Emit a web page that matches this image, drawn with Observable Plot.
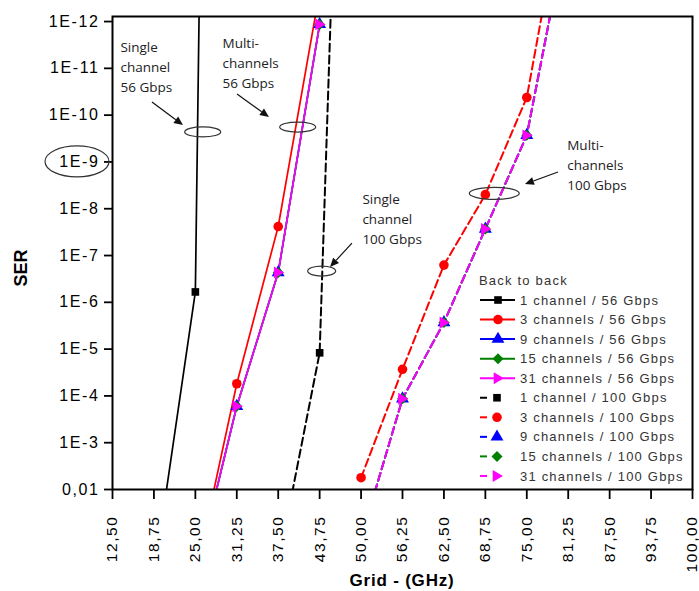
<!DOCTYPE html>
<html><head><meta charset="utf-8">
<script src="https://cdn.jsdelivr.net/npm/d3@7"></script>
<script src="https://cdn.jsdelivr.net/npm/@observablehq/plot@0.6"></script>
<style>body{margin:0;background:#fff}#chart{width:699px;height:591px}</style>
</head><body><div id="chart"></div>
<script>
// ---- tick labels ----
const gridTicks = [12.5, 18.75, 25, 31.25, 37.5, 43.75, 50, 56.25, 62.5, 68.75, 75, 81.25, 87.5, 93.75, 100];
const serTicks = [1e-12, 1e-11, 1e-10, 1e-9, 1e-8, 1e-7, 1e-6, 1e-5, 1e-4, 1e-3, 1e-2];

// ---- series (Grid GHz, SER) ----
const x_1ch56 = [18.75, 25, 31.25];
const y_1ch56 = [0.7, 6e-7, 1e-72];
const x_3ch56 = [25, 31.25, 37.5, 43.75];
const y_3ch56 = [0.7, 5.5e-5, 2.4e-8, 2.3e-13];
const x_9ch56 = [25, 31.25, 37.5, 43.75];
const y_9ch56 = [0.74, 1.66e-4, 2.3e-7, 1.15e-12];
const x_15ch56 = [25, 31.25, 37.5, 43.75];
const y_15ch56 = [0.74, 1.66e-4, 2.3e-7, 1.15e-12];
const x_31ch56 = [25, 31.25, 37.5, 43.75];
const y_31ch56 = [0.74, 1.66e-4, 2.3e-7, 1.15e-12];
const x_1ch100 = [37.5, 43.75, 50];
const y_1ch100 = [0.38, 1.2e-5, 1e-32];
const x_3ch100 = [50, 56.25, 62.5, 68.75, 75, 81.25];
const y_3ch100 = [5.6e-3, 2.7e-5, 1.6e-7, 5e-9, 4.2e-11, 6e-16];
const x_9ch100 = [50, 56.25, 62.5, 68.75, 75, 81.25];
const y_9ch100 = [0.11, 1.15e-4, 2.7e-6, 2.7e-8, 2.7e-10, 8e-15];
const x_15ch100 = [50, 56.25, 62.5, 68.75, 75, 81.25];
const y_15ch100 = [0.11, 1.15e-4, 2.7e-6, 2.7e-8, 2.7e-10, 8e-15];
const x_31ch100 = [50, 56.25, 62.5, 68.75, 75, 81.25];
const y_31ch100 = [0.11, 1.15e-4, 2.7e-6, 2.7e-8, 2.7e-10, 8e-15];

const seriesNames = ["1 channel / 56 Gbps", "3 channels / 56 Gbps", "9 channels / 56 Gbps", "15 channels / 56 Gbps", "31 channels / 56 Gbps",
  "1 channel / 100 Gbps", "3 channels / 100 Gbps", "9 channels / 100 Gbps", "15 channels / 100 Gbps", "31 channels / 100 Gbps"];

// annotations (data coordinates)
const annTexts = ["Single\nchannel\n56 Gbps", "Multi-\nchannels\n56 Gbps", "Single\nchannel\n100 Gbps", "Multi-\nchannels\n100 Gbps"];
const annTextX = [13.7, 29.1, 50.2, 81.1];
const annTextY = [10 ** -11.06, 10 ** -11.145, 10 ** -7.812, 10 ** -8.966];
const ellX = [26.18, 40.51, 44.13, 70.17];
const ellY = [10 ** -9.63, 10 ** -9.735, 10 ** -6.658, 10 ** -8.318];
const arrows = [ // x1, log y1, x2, log y2
  [18.53, -10.27, 23.21, -9.778],
  [31.36, -10.44, 36.18, -9.949],
  [48.70, -7.256, 45.39, -6.744],
  [79.78, -8.774, 74.80, -8.517]
];

// ---- symbols ----
const triRight = {
  draw(ctx, size) {
    const s = Math.sqrt(size);
    ctx.moveTo(0.62 * s, 0);
    ctx.lineTo(-0.45 * s, -0.62 * s);
    ctx.lineTo(-0.45 * s, 0.62 * s);
    ctx.closePath();
  }
};
const diamondSq = {
  draw(ctx, size) {
    const s = Math.sqrt(size) * 0.62;
    ctx.moveTo(0, -s);
    ctx.lineTo(s, 0);
    ctx.lineTo(0, s);
    ctx.lineTo(-s, 0);
    ctx.closePath();
  }
};
const xs = [x_1ch56, x_3ch56, x_9ch56, x_15ch56, x_31ch56, x_1ch100, x_3ch100, x_9ch100, x_15ch100, x_31ch100];
const ys = [y_1ch56, y_3ch56, y_9ch56, y_15ch56, y_31ch56, y_1ch100, y_3ch100, y_9ch100, y_15ch100, y_31ch100];
const colors = ["#000000", "#ff0000", "#0000ff", "#008000", "#ff00ff"];
const symbols = ["square", "circle", "triangle", diamondSq, triRight];
const d3Symbols = [d3.symbolSquare, d3.symbolCircle, d3.symbolTriangle, diamondSq, triRight];
const radii = [4.3, 4.8, 4.8, 5, 5.4];

const series = seriesNames.map((name, i) => ({
  name,
  color: colors[i % 5],
  symbol: symbols[i % 5],
  d3sym: d3Symbols[i % 5],
  r: radii[i % 5],
  dashed: i >= 5,
  rows: xs[i].map((x, j) => ({x, y: ys[i][j]}))
}));

const marks = [];
for (const s of series) {
  marks.push(Plot.line(s.rows, {x: "x", y: "y", stroke: s.color, strokeWidth: s.dashed ? 2 : 1.7,
    strokeDasharray: s.dashed ? "8,4" : null, clip: true}));
}
for (const s of series) {
  marks.push(Plot.dot(s.rows, {x: "x", y: "y", symbol: s.symbol, fill: s.color, r: s.r, clip: true}));
}
marks.push(Plot.frame({stroke: "#000", strokeWidth: 2}));
marks.push(Plot.text(annTexts.map((t, i) => ({t, x: annTextX[i], y: annTextY[i]})), {
  x: "x", y: "y", text: "t", textAnchor: "start", lineAnchor: "middle", lineHeight: 1.5,
  fontSize: 13.5, fontFamily: "Open Sans", fill: "#222"
}));

const chart = Plot.plot({
  width: 699, height: 591,
  marginLeft: 112, marginRight: 7, marginTop: 16, marginBottom: 102,
  style: {fontFamily: "'Liberation Sans', Arial, sans-serif", fontSize: "16px", color: "#000", background: "#fff"},
  x: {domain: [12.5, 100], label: null},
  y: {type: "log", domain: [0.01, 7.8e-13], label: null},
  marks: [
    Plot.axisX({ticks: gridTicks, tickFormat: d => d.toFixed(2).replace(".", ","), tickRotate: -90,
      tickSize: 10, tickPadding: 16, fontSize: 15.5, strokeWidth: 1.8, label: null}),
    Plot.axisY({ticks: serTicks, tickFormat: d => d === 0.01 ? "0,01" : "1E" + Math.round(Math.log10(d)),
      tickSize: 8, tickPadding: 5, fontSize: 16, strokeWidth: 1.8, label: null}),
    ...marks
  ]
});
document.getElementById("chart").appendChild(chart);

const svg = d3.select(chart);
svg.selectAll('[aria-label="x-axis tick label"] text, [aria-label="y-axis tick label"] text').attr("letter-spacing", "1.6");
const sx = chart.scale("x"), sy = chart.scale("y");
const g = svg.append("g");

// ellipses
ellX.forEach((x, i) => {
  const rx = [18, 18, 14, 25][i], ry = [5, 5, 5, 6][i];
  g.append("ellipse").attr("cx", sx.apply(x)).attr("cy", sy.apply(ellY[i])).attr("rx", rx).attr("ry", ry)
    .attr("fill", "none").attr("stroke", "#333").attr("stroke-width", 1.2);
});
// ellipse around 1E-9 label
g.append("ellipse").attr("cx", 112 - 35).attr("cy", sy.apply(1e-9)).attr("rx", 32).attr("ry", 15.5)
  .attr("fill", "none").attr("stroke", "#333").attr("stroke-width", 1.2);

// arrows
for (const [x1, l1, x2, l2] of arrows) {
  const X1 = sx.apply(x1), Y1 = sy.apply(10 ** l1), X2 = sx.apply(x2), Y2 = sy.apply(10 ** l2);
  const a = Math.atan2(Y2 - Y1, X2 - X1), hl = 9, hw = 4;
  const bx = X2 - hl * Math.cos(a), by = Y2 - hl * Math.sin(a);
  g.append("line").attr("x1", X1).attr("y1", Y1).attr("x2", bx).attr("y2", by).attr("stroke", "#111").attr("stroke-width", 1.2);
  g.append("path").attr("d", `M${X2},${Y2}L${bx - hw * Math.sin(a)},${by + hw * Math.cos(a)}L${bx + hw * Math.sin(a)},${by - hw * Math.cos(a)}Z`).attr("fill", "#111");
}

// legend
const lg = svg.append("g").attr("font-family", "'Liberation Sans', Arial, sans-serif").attr("font-size", 13)
  .attr("letter-spacing", "1.2").attr("text-anchor", "start");
lg.append("text").attr("x", 479).attr("y", 280).attr("dy", "0.35em").attr("fill", "#333").text("Back to back");
series.forEach((s, i) => {
  const y = 300 + i * 19.55;
  if (!s.dashed) {
    lg.append("line").attr("x1", 480).attr("x2", 515).attr("y1", y).attr("y2", y).attr("stroke", s.color).attr("stroke-width", 2);
    lg.append("path").attr("transform", `translate(498,${y})`).attr("d", d3.symbol(s.d3sym, Math.PI * s.r * s.r)()).attr("fill", s.color);
  } else {
    lg.append("line").attr("x1", 480).attr("x2", 487).attr("y1", y).attr("y2", y).attr("stroke", s.color).attr("stroke-width", 2);
    lg.append("path").attr("transform", `translate(497,${y})`).attr("d", d3.symbol(s.d3sym, Math.PI * s.r * s.r)()).attr("fill", s.color);
  }
  lg.append("text").attr("x", 520).attr("y", y).attr("dy", "0.35em").attr("fill", "#333").text(s.name);
});

// axis titles
svg.append("text").attr("transform", "translate(21,268) rotate(-90)").attr("text-anchor", "middle").attr("dy", "0.35em")
  .attr("font-family", "'Liberation Sans', Arial, sans-serif").attr("font-weight", "bold").attr("font-size", 18).attr("fill", "#000").text("SER");
svg.append("text").attr("x", 402).attr("y", 580).attr("text-anchor", "middle").attr("dy", "0.35em")
  .attr("font-family", "'Liberation Sans', Arial, sans-serif").attr("font-weight", "bold").attr("font-size", 17).attr("letter-spacing", "0.8").attr("fill", "#000").text("Grid - (GHz)");
</script></body></html>
